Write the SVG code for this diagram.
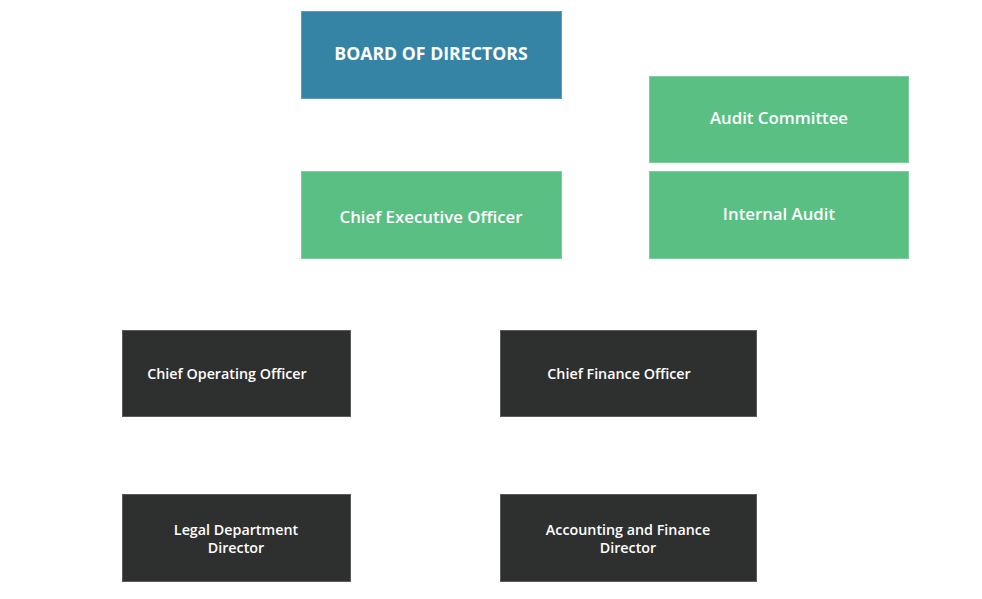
<svg xmlns="http://www.w3.org/2000/svg" width="982" height="599" viewBox="0 0 982 599">
<style>
.box{stroke-width:1}
.blue{fill:#3584a6;stroke:#5e9cb8}
.green{fill:#5abf83;stroke:#7fcd9f}
.dark{fill:#2e2f2f;stroke:#5a5b5b}
text{font-family:"Open Sans","Liberation Sans",sans-serif;fill:#ffffff;font-weight:600;text-anchor:middle;dominant-baseline:central}
.l{font-size:17.7px;font-weight:700}
.m{font-size:16.8px}
.s{font-size:14.3px}
</style>
<rect width="982" height="599" fill="#ffffff"/>
<g id="connectors"></g>
<g id="board"><rect class="box blue" x="301.5" y="11.5" width="260" height="87"/><text class="l" x="431" y="53">BOARD OF DIRECTORS</text></g>
<g id="audit-committee"><rect class="box green" x="649.5" y="76.5" width="259" height="86"/><text class="m" x="779" y="117">Audit Committee</text></g>
<g id="ceo"><rect class="box green" x="301.5" y="171.5" width="260" height="87"/><text class="m" x="431" y="216">Chief Executive Officer</text></g>
<g id="internal-audit"><rect class="box green" x="649.5" y="171.5" width="259" height="87"/><text class="m" x="779" y="213">Internal Audit</text></g>
<g id="coo"><rect class="box dark" x="122.5" y="330.5" width="228" height="86"/><text class="s" x="227" y="373">Chief Operating Officer</text></g>
<g id="cfo"><rect class="box dark" x="500.5" y="330.5" width="256" height="86"/><text class="s" x="619" y="373">Chief Finance Officer</text></g>
<g id="legal"><rect class="box dark" x="122.5" y="494.5" width="228" height="87"/><text class="s" x="236" y="529">Legal Department</text><text class="s" x="236" y="547">Director</text></g>
<g id="accounting"><rect class="box dark" x="500.5" y="494.5" width="256" height="87"/><text class="s" x="628" y="529">Accounting and Finance</text><text class="s" x="628" y="547">Director</text></g>
</svg>
